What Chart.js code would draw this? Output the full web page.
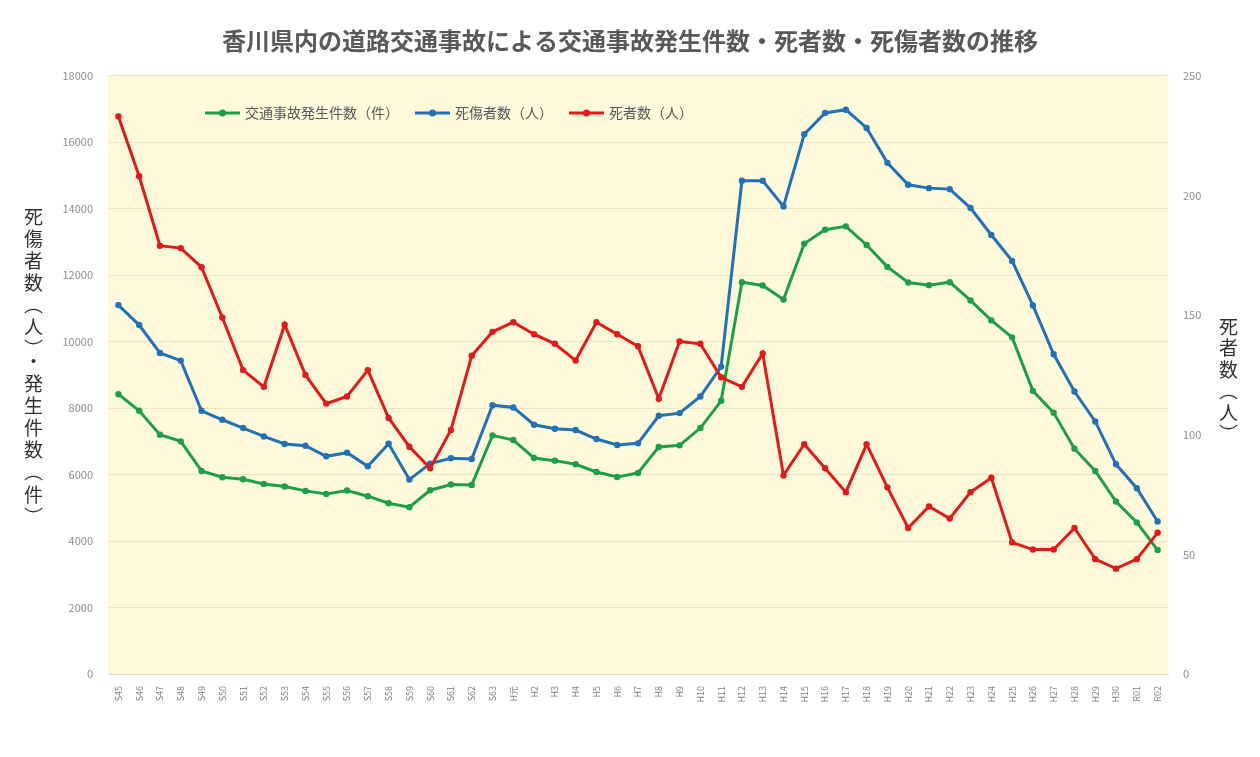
<!DOCTYPE html>
<html lang="ja">
<head>
<meta charset="utf-8">
<title>香川県内の道路交通事故</title>
<script src="https://cdn.jsdelivr.net/npm/chart.js@4.4.1/dist/chart.umd.min.js"></script>
<style>
    html, body { margin: 0; padding: 0; background: #fff; }
    #wrap { position: relative; width: 1260px; height: 757px; overflow: hidden; }
    #waku { position: absolute; left: 7px; top: 7px; width: 1250px; height: 770px; border: 1px solid #dedede; box-sizing: border-box; }
    #grafico { position: absolute; left: 0; top: 0; }
    .tate { position: absolute; writing-mode: vertical-rl; font-family: "Noto Sans CJK JP", sans-serif; color: #333; line-height: 1; }
    #tate-hidari { left: 24px; top: 207px; font-size: 19px; letter-spacing: 3.1px; }
    #tate-migi { left: 1219px; top: 317px; font-size: 19px; letter-spacing: 2.5px; }
</style>
</head>
<body>
<div id="wrap">
    <div id="waku"></div>
    <canvas id="grafico" width="1260" height="757"></canvas>
    <div class="tate" id="tate-hidari">死傷者数（人）・発生件数（件）</div>
    <div class="tate" id="tate-migi">死者数（人）</div>
</div>
<script>
// 年（横軸）
var nendo = ["S45", "S46", "S47", "S48", "S49", "S50", "S51", "S52", "S53", "S54",
    "S55", "S56", "S57", "S58", "S59", "S60", "S61", "S62", "S63", "H元",
    "H2", "H3", "H4", "H5", "H6", "H7", "H8", "H9", "H10", "H11",
    "H12", "H13", "H14", "H15", "H16", "H17", "H18", "H19", "H20", "H21",
    "H22", "H23", "H24", "H25", "H26", "H27", "H28", "H29", "H30", "R01", "R02"];

// 交通事故発生件数（件）
var hasseiKensu = [8420, 7920, 7200, 7000, 6110, 5920, 5860, 5720, 5640, 5510,
    5420, 5520, 5350, 5140, 5020, 5530, 5700, 5690, 7180, 7040,
    6500, 6420, 6310, 6080, 5930, 6050, 6830, 6880, 7400, 8220,
    11790, 11690, 11270, 12950, 13370, 13470, 12910, 12250, 11780, 11700,
    11790, 11240, 10640, 10130, 8520, 7860, 6780, 6110, 5190, 4560, 3730];

// 死傷者数（人）
var shishoshaSu = [11100, 10500, 9660, 9430, 7920, 7650, 7400, 7150, 6920, 6870,
    6550, 6660, 6250, 6930, 5850, 6330, 6490, 6470, 8090, 8020,
    7500, 7380, 7340, 7070, 6890, 6940, 7770, 7850, 8350, 9250,
    14840, 14840, 14070, 16240, 16880, 16980, 16430, 15380, 14720, 14620,
    14590, 14020, 13210, 12430, 11090, 9620, 8500, 7600, 6310, 5590, 4590];

// 死者数（人）
var shishaSu = [233, 208, 179, 178, 170, 149, 127, 120, 146, 125,
    113, 116, 127, 107, 95, 86, 102, 133, 143, 147,
    142, 138, 131, 147, 142, 137, 115, 139, 138, 124,
    120, 134, 83, 96, 86, 76, 96, 78, 61, 70,
    65, 76, 82, 55, 52, 52, 61, 48, 44, 48, 59];

// 目盛り
var hidariMax = 18000, hidariStep = 2000;
var migiMax = 250, migiStep = 50;

var fonte = '"Noto Sans CJK JP", "Noto Sans", sans-serif';
Chart.defaults.font.family = fonte;

function serie(label, dados, cor, eixo, ordem) {
    return {
        label: label,
        data: dados,
        yAxisID: eixo,
        borderColor: cor,
        backgroundColor: cor,
        borderWidth: 3,
        pointRadius: 3.2,
        pointBorderWidth: 0,
        pointBackgroundColor: cor,
        tension: 0,
        order: ordem
    };
}

// 背景（グラフエリアだけ薄い黄色）
var haikei = {
    id: 'haikei',
    beforeDraw: function (chart) {
        var ctx = chart.ctx, a = chart.chartArea;
        ctx.save();
        ctx.fillStyle = '#ffffff';
        ctx.fillRect(0, 0, chart.width, chart.height);
        ctx.fillStyle = '#fef9da';
        ctx.fillRect(a.left, a.top, a.right - a.left, a.bottom - a.top);
        ctx.restore();
    }
};

// 凡例（グラフエリアの中に描く）
var hanrei = {
    id: 'hanrei',
    afterDraw: function (chart) {
        var ctx = chart.ctx;
        var x = 205, y = 113;
        ctx.save();
        ctx.font = '14px ' + fonte;
        ctx.textBaseline = 'middle';
        chart.data.datasets.forEach(function (ds) {
            ctx.strokeStyle = ds.borderColor;
            ctx.lineWidth = 3;
            ctx.beginPath();
            ctx.moveTo(x, y);
            ctx.lineTo(x + 35, y);
            ctx.stroke();
            ctx.fillStyle = ds.borderColor;
            ctx.beginPath();
            ctx.arc(x + 17.5, y, 3.5, 0, Math.PI * 2);
            ctx.fill();
            ctx.fillStyle = '#595959';
            ctx.fillText(ds.label, x + 40, y);
            x += 40 + ctx.measureText(ds.label).width + 16;
        });
        ctx.restore();
    }
};

let dados = {
    labels: nendo,
    datasets: [
        serie('交通事故発生件数（件）', hasseiKensu, '#1f9e4a', 'y', 3),
        serie('死傷者数（人）', shishoshaSu, '#2470b5', 'y', 2),
        serie('死者数（人）', shishaSu, '#e11a1c', 'y2', 1)
    ]
};

const config = {
    type: 'line',
    data: dados,
    options: {
        responsive: false,
        animation: false,
        devicePixelRatio: 1,
        layout: { padding: 0 },
        plugins: {
            legend: { display: false },
            tooltip: { enabled: false },
            title: {
                display: true,
                text: '香川県内の道路交通事故による交通事故発生件数・死者数・死傷者数の推移',
                color: '#595959',
                font: { size: 24, weight: 'bold' },
                padding: { top: 26, bottom: 21 }
            }
        },
        scales: {
            x: {
                offset: true,
                grid: { display: false },
                border: { color: '#d9d9d9' },
                ticks: { autoSkip: false, minRotation: 90, maxRotation: 90, padding: 4, color: '#7f7f7f', font: { size: 9 } },
                afterFit: function (s) { s.height = 83; }
            },
            y: {
                position: 'left',
                min: 0,
                max: hidariMax,
                grid: { color: '#ede5c6', drawTicks: false },
                border: { display: false },
                ticks: { stepSize: hidariStep, padding: 15, color: '#8c8c8c', font: { size: 11 }, callback: function (v) { return v; } },
                afterFit: function (s) { s.width = 108; }
            },
            y2: {
                position: 'right',
                min: 0,
                max: migiMax,
                grid: { display: false, drawTicks: false },
                border: { display: false },
                ticks: { stepSize: migiStep, padding: 15, color: '#8c8c8c', font: { size: 11 }, callback: function (v) { return v; } },
                afterFit: function (s) { s.width = 92; }
            }
        }
    },
    plugins: [haikei, hanrei]
};

let myChart = new Chart(document.getElementById('grafico'), config);
</script>
</body>
</html>
